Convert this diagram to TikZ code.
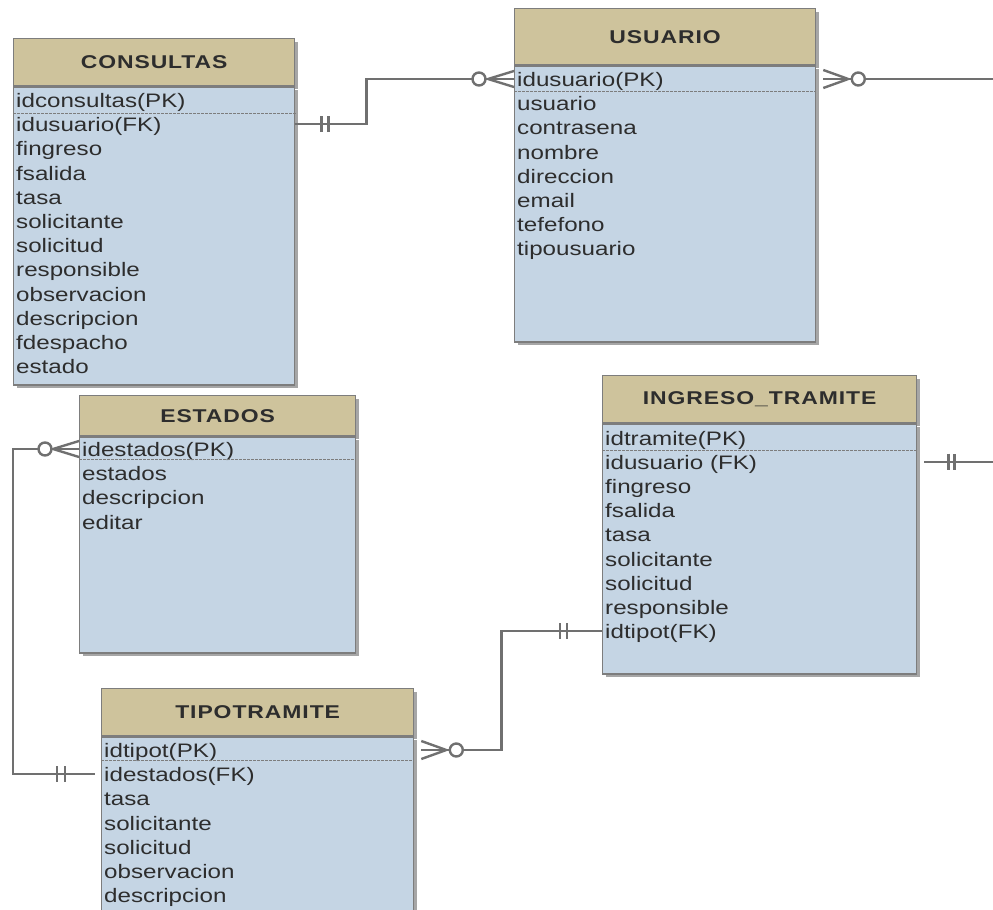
\documentclass[tikz,border=0pt]{standalone}
\usepackage{fontspec}
\setmainfont{Liberation Sans}[FakeStretch=1.24]
\newfontfamily\headfont{Liberation Sans}[FakeStretch=1.24, LetterSpace=5]
\usetikzlibrary{shadows}

\definecolor{headtan}{RGB}{206,195,156}
\definecolor{bodyblue}{RGB}{197,213,228}
\definecolor{edgegray}{RGB}{125,125,125}
\definecolor{linkgray}{RGB}{112,112,112}
\definecolor{textgray}{RGB}{45,45,45}

\tikzset{
  tblhead/.style={draw=edgegray, fill=headtan, line width=1.3pt, anchor=north west,
    inner sep=0pt, text=textgray, font=\headfont\bfseries\fontsize{18.5}{18.5}\selectfont,
    drop shadow={shadow xshift=3pt, shadow yshift=-3pt, fill=black, opacity=0.35}},
  tblbody/.style={draw=edgegray, fill=bodyblue, line width=1.3pt, anchor=north west,
    inner sep=0pt,
    drop shadow={shadow xshift=3pt, shadow yshift=-3pt, fill=black, opacity=0.35}},
  field/.style={anchor=base west, inner sep=0pt, text height=15pt, text depth=0pt,
    text=textgray, font=\fontsize{19.5}{19.5}\selectfont},
  pkline/.style={draw=edgegray, line width=0.9pt, dash pattern=on 2.5pt off 1.5pt},
  link/.style={draw=linkgray, line width=2.4pt},
  ring/.style={circle, draw=linkgray, fill=white, line width=2.4pt, minimum size=13pt, inner sep=0pt},
}

\begin{document}
\begin{tikzpicture}[x=1pt,y=-1pt]
    \useasboundingbox (0,0) rectangle (993,910);
    \clip (0,0) rectangle (993,910);

    % CONSULTAS
    \node[tblhead, minimum width=281pt, minimum height=47pt] (consultas) at (13,38) {CONSULTAS};
    \node[tblbody, minimum width=281pt, minimum height=298pt] (consultas-b) at (consultas.south west) {};
    \foreach \f [count=\i] in {idconsultas(PK), idusuario(FK), fingreso, fsalida, tasa, solicitante,
        solicitud, responsible, observacion, descripcion, fdespacho, estado}
        \node[field] (consultas-\i) at (16,{107.5+24.2*(\i-1)}) {\f};
    \draw[pkline] (13,113) -- (297,113);

    % USUARIO
    \node[tblhead, minimum width=301pt, minimum height=56pt] (usuario) at (514,8) {USUARIO};
    \node[tblbody, minimum width=301pt, minimum height=276pt] (usuario-b) at (usuario.south west) {};
    \foreach \f [count=\i] in {idusuario(PK), usuario, contrasena, nombre, direccion, email,
        tefefono, tipousuario}
        \node[field] (usuario-\i) at (517,{86.5+24.2*(\i-1)}) {\f};
    \draw[pkline] (514,91) -- (815,91);

    % ESTADOS
    \node[tblhead, minimum width=276pt, minimum height=40pt] (estados) at (79,395) {ESTADOS};
    \node[tblbody, minimum width=276pt, minimum height=216pt] (estados-b) at (estados.south west) {};
    \foreach \f [count=\i] in {idestados(PK), estados, descripcion, editar}
        \node[field] (estados-\i) at (82,{456.5+24.2*(\i-1)}) {\f};
    \draw[pkline] (79,459) -- (355,459);

    % INGRESO_TRAMITE
    \node[tblhead, minimum width=314pt, minimum height=47pt] (ingreso) at (602,375) {INGRESO\_TRAMITE};
    \node[tblbody, minimum width=314pt, minimum height=250pt] (ingreso-b) at (ingreso.south west) {};
    \foreach \f [count=\i] in {idtramite(PK), idusuario (FK), fingreso, fsalida, tasa, solicitante,
        solicitud, responsible, idtipot(FK)}
        \node[field] (ingreso-\i) at (605,{445+24.2*(\i-1)}) {\f};
    \draw[pkline] (602,450) -- (916,450);

    % TIPOTRAMITE
    \node[tblhead, minimum width=312pt, minimum height=47pt] (tipotramite) at (101,688) {TIPOTRAMITE};
    \node[tblbody, minimum width=312pt, minimum height=200pt] (tipotramite-b) at (tipotramite.south west) {};
    \foreach \f [count=\i] in {idtipot(PK), idestados(FK), tasa, solicitante, solicitud,
        observacion, descripcion}
        \node[field] (tipotramite-\i) at (104,{757.5+24.2*(\i-1)}) {\f};
    \draw[pkline] (101,760) -- (413,760);

    % CONSULTAS -- USUARIO
    \coordinate (cu-a) at (consultas-b.east |- consultas-2);
    \coordinate (cu-b) at (usuario-b.west |- usuario-1);
    \draw[link] (consultas-b.east |- consultas-2) -- ++(71,0) |- (usuario-b.west |- usuario-1);
    \draw[link] ([xshift=26pt]cu-a) ++(0,-8) -- ++(0,16) ++(7,0) -- ++(0,-16);
    \node[ring] (ring-cu) at ([xshift=-35pt]cu-b) {};
    \draw[link] ([xshift=-26pt]cu-b) -- ++(26,-8) ([xshift=-26pt]cu-b) -- ++(26,8);

    % USUARIO -- (out of view)
    \coordinate (uo-a) at (usuario-b.east |- usuario-1);
    \coordinate (uo-b) at (1000,0 |- usuario-1);
    \draw[link] ([xshift=7pt]uo-a) -- (uo-b);
    \draw[link] ([xshift=32pt]uo-a) -- ++(-25,-9) ([xshift=32pt]uo-a) -- ++(-25,9);
    \node[ring] (ring-uo) at ([xshift=42pt]uo-a) {};

    % INGRESO_TRAMITE -- (out of view)
    \coordinate (io-a) at (ingreso-b.east |- ingreso-2);
    \coordinate (io-b) at (1000,0 |- ingreso-2);
    \draw[link] ([xshift=7pt]io-a) -- (io-b);
    \draw[link] ([xshift=31pt]io-a) ++(0,-8) -- ++(0,16) ++(6,0) -- ++(0,-16);

    % ESTADOS -- TIPOTRAMITE
    \coordinate (et-a) at (estados-b.west |- estados-1);
    \coordinate (et-b) at (tipotramite-b.west |- tipotramite-2);
    \draw[link] (estados-b.west |- estados-1) -- ++(-66,0) |- ([xshift=-6pt]tipotramite-b.west |- tipotramite-2);
    \node[ring] (ring-et) at ([xshift=-34pt]et-a) {};
    \draw[link] ([xshift=-26pt]et-a) -- ++(26,-8) ([xshift=-26pt]et-a) -- ++(26,8);
    \draw[link] ([xshift=-44pt]et-b) ++(0,-8) -- ++(0,16) ++(8,0) -- ++(0,-16);

    % TIPOTRAMITE -- INGRESO_TRAMITE
    \coordinate (ti-a) at (tipotramite-b.east |- tipotramite-1);
    \coordinate (ti-b) at (ingreso-b.west |- ingreso-9);
    \draw[link] ([xshift=7pt]tipotramite-b.east |- tipotramite-1) -- ++(80,0) |- (ingreso-b.west |- ingreso-9);
    \draw[link] ([xshift=32pt]ti-a) -- ++(-25,-9) ([xshift=32pt]ti-a) -- ++(-25,9);
    \node[ring] (ring-ti) at ([xshift=42pt]ti-a) {};
    \draw[link] ([xshift=-42pt]ti-b) ++(0,-8) -- ++(0,16) ++(7,0) -- ++(0,-16);
\end{tikzpicture}
\end{document}
